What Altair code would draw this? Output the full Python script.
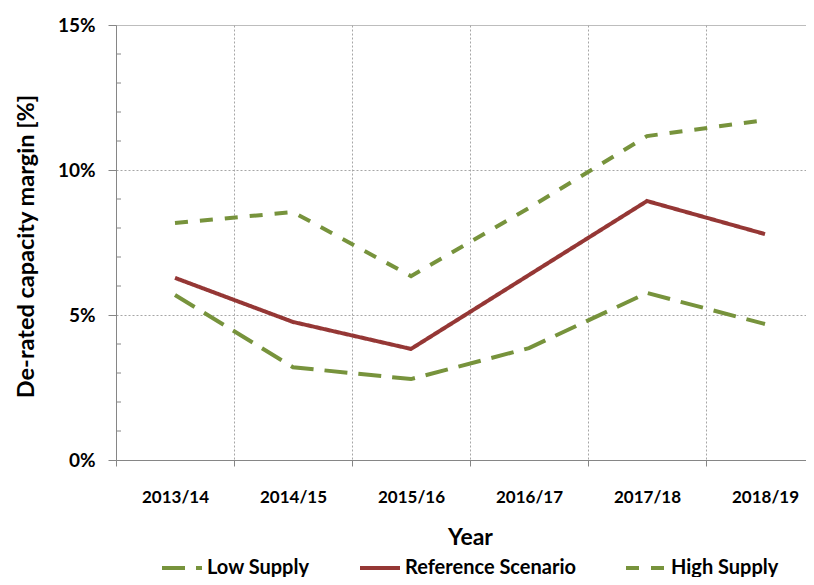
import altair as alt
import pandas as pd

years = ["2013/14", "2014/15", "2015/16", "2016/17", "2017/18", "2018/19"]
series_names = ["Low Supply", "Reference Scenario", "High Supply"]
low_supply = [5.69, 3.20, 2.79, 3.86, 5.76, 4.69]
reference = [6.28, 4.76, 3.83, 6.38, 8.93, 7.79]
high_supply = [8.17, 8.55, 6.34, 8.69, 11.17, 11.72]
y_major = [0, 0.05, 0.10, 0.15]
y_minor = [i / 100 for i in range(1, 15) if i % 5 != 0]

colors = ["#77933C", "#953735", "#77933C"]
dashes = [[23, 11], [1, 0], [13, 12]]

rows = []
for name, vals in zip(series_names, [low_supply, reference, high_supply]):
    for y, v in zip(years, vals):
        rows.append({"year": y, "series": name, "value": v / 100})
df = pd.DataFrame(rows)
minor_df = pd.DataFrame({"v": y_minor})

FONT = "Lato"
AX = "#868686"
GRID = "#a6a6a6"

y_scale = alt.Scale(domain=[0, 0.15], nice=False)
y_axis = alt.Axis(
    title="De-rated capacity  margin [%]",
    values=y_major,
    format=".0%",
    grid=True,
    gridColor=GRID,
    gridDash={"condition": {"test": "datum.value >= 0.149", "value": [1, 0]}, "value": [2, 2]},
    tickSize=8,
    tickColor=AX,
    domainColor=AX,
    labelPadding=13,
    labelFont=FONT,
    labelFontSize=19,
    labelFontWeight="bold",
    labelColor="black",
    titleFont=FONT,
    titleFontSize=23.5,
    titleFontWeight="bold",
    titleColor="black",
    titleX=-78,
    titleY=221,
)

lines = alt.Chart(df).mark_line(strokeWidth=4, strokeCap="butt").encode(
    x=alt.X(
        "year:N",
        sort=years,
        scale=alt.Scale(type="band", paddingInner=0, paddingOuter=0, range=[0, 708]),
        axis=alt.Axis(
            title="Year",
            tickBand="extent",
            labelAngle=0,
            grid=True,
            gridColor=GRID,
            gridDash=[2, 2],
            tickSize=6,
            tickColor=AX,
            domainColor=AX,
            labelPadding=23,
            labelFont=FONT,
            labelFontSize=17,
            labelFontWeight="bold",
            labelColor="black",
            titleFont=FONT,
            titleFontSize=23,
            titleFontWeight="bold",
            titleColor="black",
            titlePadding=21,
        ),
    ),
    y=alt.Y("value:Q", scale=y_scale, axis=y_axis),
    color=alt.Color(
        "series:N",
        sort=series_names,
        scale=alt.Scale(domain=series_names, range=colors),
        legend=alt.Legend(
            title=None,
            orient="none",
            direction="horizontal",
            legendX=44,
            legendY=521,
            symbolType="stroke",
            symbolStrokeWidth=4,
            symbolSize=1600,
            labelFont=FONT,
            labelFontSize=20,
            labelFontWeight="bold",
            labelColor="black",
            labelLimit=400,
            labelOffset=3,
            columnPadding=42,
        ),
    ),
    strokeDash=alt.StrokeDash(
        "series:N",
        sort=series_names,
        scale=alt.Scale(domain=series_names, range=dashes),
    ),
)

minor_ticks = alt.Chart(minor_df).mark_rule(color=AX, strokeWidth=1).encode(
    y=alt.Y("v:Q", scale=y_scale, axis=y_axis),
    x=alt.value(0),
    x2=alt.value(5),
)

chart = alt.layer(lines, minor_ticks).properties(
    width=690,
    height=435,
    autosize=alt.AutoSizeParams(type="none"),
    padding={"left": 108, "top": 17, "right": 0, "bottom": 117},
).configure_view(stroke=None)

chart.save("out.html", embed_options={"renderer": "svg", "actions": False})
